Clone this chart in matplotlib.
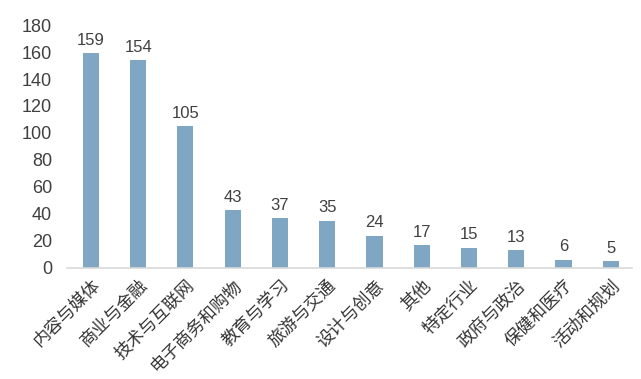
import matplotlib
matplotlib.use('Agg')
import matplotlib.pyplot as plt

categories = ['内容与媒体', '商业与金融', '技术与互联网', '电子商务和购物', '教育与学习',
              '旅游与交通', '设计与创意', '其他', '特定行业', '政府与政治',
              '保健和医疗', '活动和规划']
counts = [159, 154, 105, 43, 37, 35, 24, 17, 15, 13, 6, 5]

bar_color = '#7FA6C2'
text_color = '#404040'

fig = plt.figure(figsize=(6.41, 3.79), dpi=100)
ax = fig.add_axes([0.105, 0.293, 0.881, 0.641])

x = range(len(categories))
bars = ax.bar(x, counts, width=0.34, color=bar_color)

# value labels above bars
for xi, v in zip(x, counts):
    ax.text(xi, v + 4, str(v), ha='center', va='bottom', fontsize=12,
            color=text_color, family='Liberation Sans')

ax.set_ylim(0, 180)
ax.set_xlim(-0.5, 11.45)
ax.set_yticks(range(0, 181, 20))
ax.set_yticklabels([str(t) for t in range(0, 181, 20)], family='Liberation Sans',
                   fontsize=13, color=text_color)
ax.set_xticks(list(x))
ax.set_xticklabels(categories, rotation=45, ha='right', va='top', rotation_mode='anchor',
                   family=['Noto Sans CJK SC', 'DejaVu Sans'], fontsize=12.5,
                   color='#333333', fontweight='light')

ax.tick_params(axis='both', length=0)
ax.tick_params(axis='x', pad=6)
ax.tick_params(axis='y', pad=11)
for side in ['top', 'right', 'left']:
    ax.spines[side].set_visible(False)
ax.spines['bottom'].set_color('#D9D9D9')
ax.spines['bottom'].set_linewidth(1.2)

plt.savefig('out.png', dpi=100)
